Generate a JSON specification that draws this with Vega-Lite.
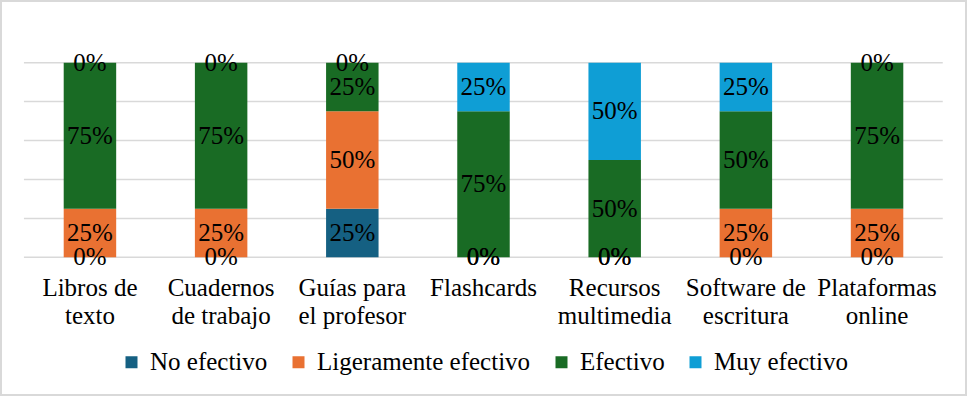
{
  "$schema": "https://vega.github.io/schema/vega-lite/v6.json",
  "width": 965,
  "height": 394,
  "padding": 1,
  "autosize": "none",
  "background": "white",
  "config": {
    "view": {"stroke": "#d9d9d9", "strokeWidth": 2},
    "font": "Liberation Serif"
  },
  "layer": [
    {
      "data": {"values": [{"g": 0}, {"g": 0.2}, {"g": 0.4}, {"g": 0.6}, {"g": 0.8}, {"g": 1}]},
      "mark": {"type": "rule", "color": "#d9d9d9", "strokeWidth": 1.5},
      "encoding": {
        "x": {"datum": "Libros de texto", "bandPosition": -0.758, "type": "nominal"},
        "x2": {"datum": "Plataformas online", "bandPosition": 1.752},
        "y": {"field": "g", "type": "quantitative", "axis": null}
      }
    },
    {
      "data": {"name": "main"},
      "transform": [
        {"stack": "pct", "groupby": ["cat"], "sort": [{"field": "ord"}], "as": ["y0", "y1"]}
      ],
      "mark": {"type": "bar"},
      "encoding": {
        "x": {
          "field": "cat", "type": "nominal", "sort": null,
          "scale": {
            "domain": ["Libros de texto", "Cuadernos de trabajo", "Guías para el profesor", "Flashcards", "Recursos multimedia", "Software de escritura", "Plataformas online"],
            "paddingInner": 0.6, "paddingOuter": 0.478
          },
          "axis": {
            "title": null, "orient": "bottom", "offset": -137.7, "domain": false, "ticks": false, "tickSize": 0,
            "grid": false, "labelAngle": 0, "labelAlign": "center", "labelBaseline": "top", "labelPadding": 18, "labelFontSize": 25, "labelColor": "black",
            "labelFont": "Liberation Serif", "labelLineHeight": 28.7, "labelOverlap": false, "labelBound": false, "labelLimit": 0,
            "labelExpr": "datum.label == 'Libros de texto' ? ['Libros de','texto'] : datum.label == 'Cuadernos de trabajo' ? ['Cuadernos','de trabajo'] : datum.label == 'Guías para el profesor' ? ['Guías para','el profesor'] : datum.label == 'Recursos multimedia' ? ['Recursos','multimedia'] : datum.label == 'Software de escritura' ? ['Software de','escritura'] : datum.label == 'Plataformas online' ? ['Plataformas','online'] : datum.label"
          }
        },
        "y": {"field": "y0", "type": "quantitative", "axis": null, "scale": {"domain": [-0.7076, 1.317], "nice": false, "zero": false}},
        "y2": {"field": "y1"},
        "color": {
          "field": "serie", "type": "nominal",
          "scale": {
            "domain": ["No efectivo", "Ligeramente efectivo", "Efectivo", "Muy efectivo"],
            "range": ["#156082", "#E97132", "#196B24", "#0F9ED5"]
          },
          "legend": {
            "orient": "none", "legendX": 118, "legendY": 348.5, "direction": "horizontal", "columns": 4,
            "title": null, "labelFontSize": 25, "labelFont": "Liberation Serif", "labelColor": "black",
            "symbolType": "square", "symbolSize": 144, "symbolStrokeWidth": 0, "symbolOpacity": 1,
            "labelOffset": 6, "columnPadding": 18, "padding": 0, "labelLimit": 0
          }
        }
      }
    },
    {
      "data": {"name": "main"},
      "transform": [
        {"stack": "pct", "groupby": ["cat"], "sort": [{"field": "ord"}], "as": ["y0", "y1"]},
        {"calculate": "(datum.y0 + datum.y1) / 2", "as": "mid"}
      ],
      "mark": {"type": "text", "fontSize": 25, "font": "Liberation Serif", "color": "black", "baseline": "middle"},
      "encoding": {
        "x": {"field": "cat", "type": "nominal", "sort": null},
        "y": {"field": "mid", "type": "quantitative", "axis": null},
        "text": {"field": "pct", "type": "quantitative", "format": ".0%"}
      }
    }
  ],
  "datasets": {
    "main": [
      {"cat": "Libros de texto", "serie": "No efectivo", "ord": 1, "pct": 0},
      {"cat": "Libros de texto", "serie": "Ligeramente efectivo", "ord": 2, "pct": 0.25},
      {"cat": "Libros de texto", "serie": "Efectivo", "ord": 3, "pct": 0.75},
      {"cat": "Libros de texto", "serie": "Muy efectivo", "ord": 4, "pct": 0},
      {"cat": "Cuadernos de trabajo", "serie": "No efectivo", "ord": 1, "pct": 0},
      {"cat": "Cuadernos de trabajo", "serie": "Ligeramente efectivo", "ord": 2, "pct": 0.25},
      {"cat": "Cuadernos de trabajo", "serie": "Efectivo", "ord": 3, "pct": 0.75},
      {"cat": "Cuadernos de trabajo", "serie": "Muy efectivo", "ord": 4, "pct": 0},
      {"cat": "Guías para el profesor", "serie": "No efectivo", "ord": 1, "pct": 0.25},
      {"cat": "Guías para el profesor", "serie": "Ligeramente efectivo", "ord": 2, "pct": 0.5},
      {"cat": "Guías para el profesor", "serie": "Efectivo", "ord": 3, "pct": 0.25},
      {"cat": "Guías para el profesor", "serie": "Muy efectivo", "ord": 4, "pct": 0},
      {"cat": "Flashcards", "serie": "No efectivo", "ord": 1, "pct": 0},
      {"cat": "Flashcards", "serie": "Ligeramente efectivo", "ord": 2, "pct": 0},
      {"cat": "Flashcards", "serie": "Efectivo", "ord": 3, "pct": 0.75},
      {"cat": "Flashcards", "serie": "Muy efectivo", "ord": 4, "pct": 0.25},
      {"cat": "Recursos multimedia", "serie": "No efectivo", "ord": 1, "pct": 0},
      {"cat": "Recursos multimedia", "serie": "Ligeramente efectivo", "ord": 2, "pct": 0},
      {"cat": "Recursos multimedia", "serie": "Efectivo", "ord": 3, "pct": 0.5},
      {"cat": "Recursos multimedia", "serie": "Muy efectivo", "ord": 4, "pct": 0.5},
      {"cat": "Software de escritura", "serie": "No efectivo", "ord": 1, "pct": 0},
      {"cat": "Software de escritura", "serie": "Ligeramente efectivo", "ord": 2, "pct": 0.25},
      {"cat": "Software de escritura", "serie": "Efectivo", "ord": 3, "pct": 0.5},
      {"cat": "Software de escritura", "serie": "Muy efectivo", "ord": 4, "pct": 0.25},
      {"cat": "Plataformas online", "serie": "No efectivo", "ord": 1, "pct": 0},
      {"cat": "Plataformas online", "serie": "Ligeramente efectivo", "ord": 2, "pct": 0.25},
      {"cat": "Plataformas online", "serie": "Efectivo", "ord": 3, "pct": 0.75},
      {"cat": "Plataformas online", "serie": "Muy efectivo", "ord": 4, "pct": 0}
    ]
  }
}
